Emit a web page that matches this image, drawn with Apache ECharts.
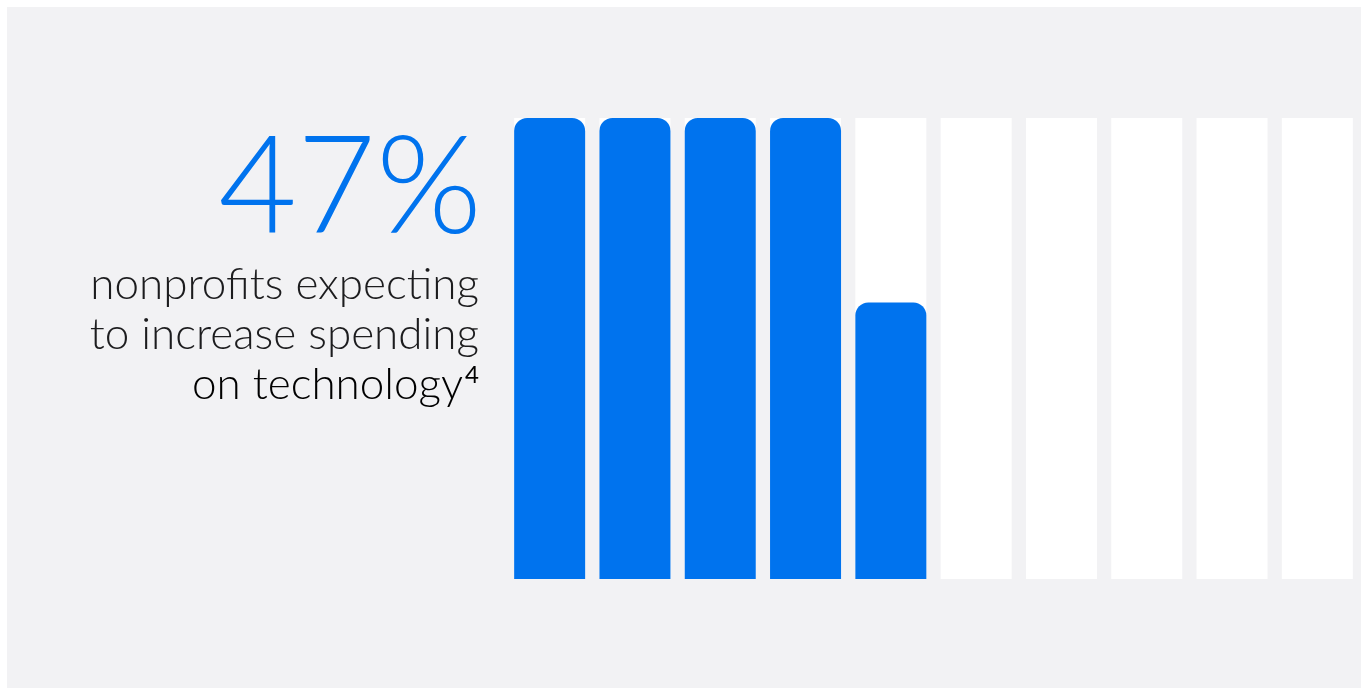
<!DOCTYPE html>
<html>
<head>
<meta charset="utf-8">
<script src="https://cdn.jsdelivr.net/npm/echarts@6/dist/echarts.min.js"></script>
<style>
  html, body { margin: 0; padding: 0; background: #ffffff; }
  #chart { width: 1361px; height: 688px; }
</style>
</head>
<body>
<div id="chart"></div>
<script>
// ten bars = 100%, each one filled from 0 to 1
const slots = ["1", "2", "3", "4", "5", "6", "7", "8", "9", "10"];
const fill = [1, 1, 1, 1, 0.6, 0, 0, 0, 0, 0];
const headline = "47%";
const captionLines = ["nonprofits expecting", "to increase spending", "on technology"];
const footnote = "4";

const blue = "#0073ee";
const grey = "#f2f2f4";
const ink = "#1c1c1e";

let myChart = echarts.init(document.getElementById("chart"));

let options = {
  backgroundColor: "#ffffff",
  animation: false,
  grid: { left: 507, right: 1, top: 118, bottom: 109 },
  xAxis: {
    type: "category",
    data: slots,
    show: false,
  },
  yAxis: {
    type: "value",
    min: 0,
    max: 1,
    show: false,
  },
  graphic: [
    {
      type: "rect",
      z: -10,
      silent: true,
      shape: { x: 7, y: 7, width: 1361, height: 688 },
      style: { fill: grey },
    },
    {
      type: "text",
      x: 482,
      y: 121,
      style: {
        text: headline,
        fill: blue,
        font: "300 136px Lato",
        align: "right",
        verticalAlign: "top",
      },
    },
    {
      type: "text",
      x: 479,
      y: 263,
      style: {
        text: captionLines[0],
        fill: ink,
        font: "300 44px Lato",
        align: "right",
        verticalAlign: "top",
      },
    },
    {
      type: "text",
      x: 479,
      y: 313,
      style: {
        text: captionLines[1],
        fill: ink,
        font: "300 44px Lato",
        align: "right",
        verticalAlign: "top",
      },
    },
    {
      type: "text",
      x: 479,
      y: 363,
      style: {
        text: "{a|" + captionLines[2] + "}{s|" + footnote + "}",
        align: "right",
        verticalAlign: "top",
        rich: {
          a: { fontFamily: "Lato", fontWeight: 300, fontSize: 44, color: ink, lineHeight: 44 },
          s: { fontFamily: "Lato", fontWeight: 400, fontSize: 24, color: ink, verticalAlign: "top", lineHeight: 44, padding: [0, 0, 0, 2] },
        },
      },
    },
  ],
  series: [
    {
      type: "bar",
      data: fill,
      barWidth: 71,
      showBackground: true,
      backgroundStyle: { color: "#ffffff" },
      itemStyle: {
        color: blue,
        borderRadius: [13, 13, 0, 0],
      },
    },
  ],
};
myChart.setOption(options);
</script>
</body>
</html>
